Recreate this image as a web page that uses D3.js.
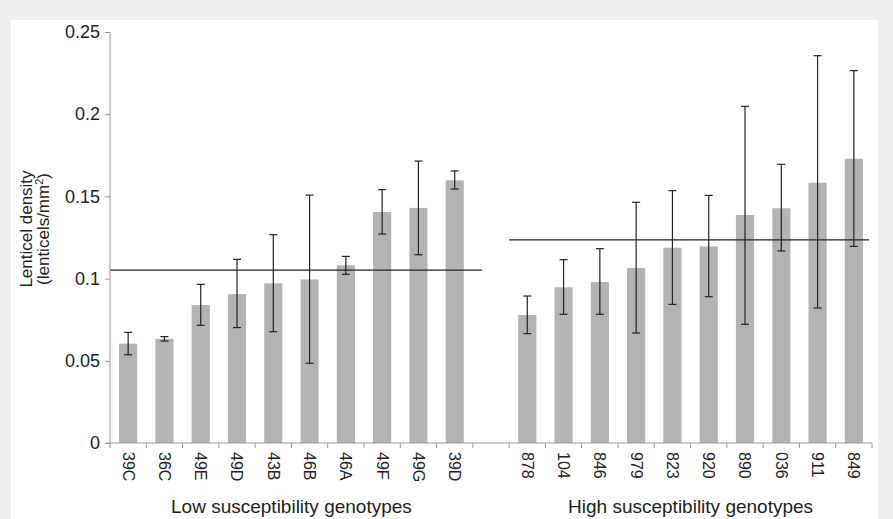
<!DOCTYPE html>
<html lang="en">
<head>
<meta charset="UTF-8">
<title>Lenticel density</title>
<script src="https://cdn.jsdelivr.net/npm/d3@7/dist/d3.min.js"></script>
<style>
  body { margin: 0; background: #eeeeee; }
  svg { display: block; font-family: "Liberation Sans", Arial, sans-serif; }
</style>
</head>
<body>
<script>
// genotypes and their means / error bar ends
var lowNames = ["39C", "36C", "49E", "49D", "43B", "46B", "46A", "49F", "49G", "39D"];
var lowMeans = [0.0604, 0.0633, 0.0839, 0.0906, 0.0971, 0.0995, 0.1081, 0.1405, 0.143, 0.1598];
var lowHi = [0.0673, 0.0647, 0.0965, 0.1117, 0.1267, 0.1508, 0.1135, 0.1541, 0.1715, 0.1655];
var lowLo = [0.0537, 0.062, 0.0716, 0.0702, 0.0677, 0.0485, 0.1026, 0.1271, 0.1145, 0.1545];
var lowGroupMean = 0.1052;

var highNames = ["878", "104", "846", "979", "823", "920", "890", "036", "911", "849"];
var highMeans = [0.0779, 0.0947, 0.0979, 0.1064, 0.1188, 0.1196, 0.1387, 0.1428, 0.1583, 0.1729];
var highHi = [0.0894, 0.1115, 0.1182, 0.1464, 0.1535, 0.1506, 0.2048, 0.1695, 0.2356, 0.2265];
var highLo = [0.0665, 0.0783, 0.0783, 0.0669, 0.0843, 0.089, 0.0722, 0.1168, 0.0821, 0.1196];
var highGroupMean = 0.1235;

var yTicks = [0, 0.05, 0.1, 0.15, 0.2, 0.25];
var groupTitles = ["Low susceptibility genotypes", "High susceptibility genotypes"];

var W = 893, H = 519;
var svg = d3.select("body").append("svg").attr("width", W).attr("height", H);

// white panel
svg.append("rect").attr("x", 11).attr("y", 20).attr("width", 867).attr("height", H - 20).attr("fill", "#fff");

// build rows, with one empty slot between the groups
var rows = [];
lowNames.forEach(function (n, i) { rows.push({key: "L" + n, name: n, v: lowMeans[i], hi: lowHi[i], lo: lowLo[i]}); });
rows.push({key: "gap", name: "", v: null});
highNames.forEach(function (n, i) { rows.push({key: "H" + n, name: n, v: highMeans[i], hi: highHi[i], lo: highLo[i]}); });
var bars = rows.filter(function (d) { return d.v !== null; });

var x = d3.scaleBand().domain(rows.map(function (d) { return d.key; }))
    .range([110, 872]).paddingInner(0.5).paddingOuter(0.25);
var y = d3.scaleLinear().domain([0, 0.25]).range([443, 32]);
var step = x.step();

// bars
svg.selectAll("rect.bar").data(bars).enter().append("rect")
    .attr("class", "bar")
    .attr("x", function (d) { return x(d.key); })
    .attr("width", x.bandwidth())
    .attr("y", function (d) { return y(d.v); })
    .attr("height", function (d) { return y(0) - y(d.v); })
    .attr("fill", "#b3b3b3");

// error bars
var eb = svg.selectAll("g.err").data(bars).enter().append("g").attr("class", "err")
    .attr("stroke", "#222").attr("stroke-width", 1.2);
eb.append("line")
    .attr("x1", function (d) { return x(d.key) + x.bandwidth() / 2; })
    .attr("x2", function (d) { return x(d.key) + x.bandwidth() / 2; })
    .attr("y1", function (d) { return y(d.hi); })
    .attr("y2", function (d) { return y(d.lo); });
["hi", "lo"].forEach(function (k) {
    eb.append("line")
        .attr("x1", function (d) { return x(d.key) + x.bandwidth() / 2 - 4; })
        .attr("x2", function (d) { return x(d.key) + x.bandwidth() / 2 + 4; })
        .attr("y1", function (d) { return y(d[k]); })
        .attr("y2", function (d) { return y(d[k]); });
});

// group mean lines
var meanLines = [
    {x1: x.range()[0], x2: x("gap"), v: lowGroupMean},
    {x1: x("H" + highNames[0]) - step * 0.25, x2: x.range()[1] - 3, v: highGroupMean}
];
svg.selectAll("line.mean").data(meanLines).enter().append("line")
    .attr("class", "mean")
    .attr("x1", function (d) { return d.x1; })
    .attr("x2", function (d) { return d.x2; })
    .attr("y1", function (d) { return y(d.v); })
    .attr("y2", function (d) { return y(d.v); })
    .attr("stroke", "#222").attr("stroke-width", 1.3);

// y axis
var yAxis = d3.axisLeft(y).tickValues(yTicks).tickSize(5).tickPadding(5)
    .tickFormat(function (d) { return String(+d.toFixed(2)); });
var gy = svg.append("g").attr("transform", "translate(110,0)").call(yAxis);
gy.attr("font-size", 18).attr("font-family", "Liberation Sans, Arial, sans-serif");
gy.select(".domain").attr("stroke", "#999").attr("d", "M0," + y(0.25) + "V" + y(0));
gy.selectAll(".tick line").attr("stroke", "#999");
gy.selectAll(".tick text").attr("fill", "#222");

// x axis line with ticks on slot boundaries
svg.append("line").attr("x1", 106).attr("x2", x.range()[1])
    .attr("y1", y(0)).attr("y2", y(0)).attr("stroke", "#999");
var bounds = rows.map(function (d) { return x(d.key) - step * 0.25; }).concat([x.range()[1]]);
svg.selectAll("line.xt").data(bounds).enter().append("line")
    .attr("class", "xt")
    .attr("x1", function (d) { return d; }).attr("x2", function (d) { return d; })
    .attr("y1", y(0)).attr("y2", y(0) + 5).attr("stroke", "#999");

// category labels, rotated
svg.selectAll("text.cat").data(bars).enter().append("text")
    .attr("class", "cat")
    .attr("transform", function (d) { return "translate(" + (x(d.key) + x.bandwidth() / 2) + ",452) rotate(90)"; })
    .attr("dy", "0.35em")
    .attr("font-size", 16).attr("fill", "#222")
    .text(function (d) { return d.name; });

// group titles
var lowCenter = (x("L" + lowNames[0]) + x("L" + lowNames[9]) + x.bandwidth()) / 2;
var highCenter = (x("H" + highNames[0]) + x("H" + highNames[9]) + x.bandwidth()) / 2;
svg.selectAll("text.grp").data(groupTitles).enter().append("text")
    .attr("class", "grp")
    .attr("x", function (d, i) { return i === 0 ? lowCenter : highCenter; })
    .attr("y", 513)
    .attr("text-anchor", "middle")
    .attr("font-size", 19).attr("fill", "#222")
    .text(function (d) { return d; });

// y title
var yt = svg.append("text").attr("transform", "translate(0,229) rotate(-90)")
    .attr("text-anchor", "middle").attr("font-size", 17).attr("fill", "#222");
yt.append("tspan").attr("x", 0).attr("y", 32).text("Lenticel density");
yt.append("tspan").attr("x", 0).attr("y", 49).text("(lenticels/mm");
yt.append("tspan").attr("dy", -6).attr("font-size", 11).text("2");
yt.append("tspan").attr("dy", 6).text(")");
</script>
</body>
</html>
